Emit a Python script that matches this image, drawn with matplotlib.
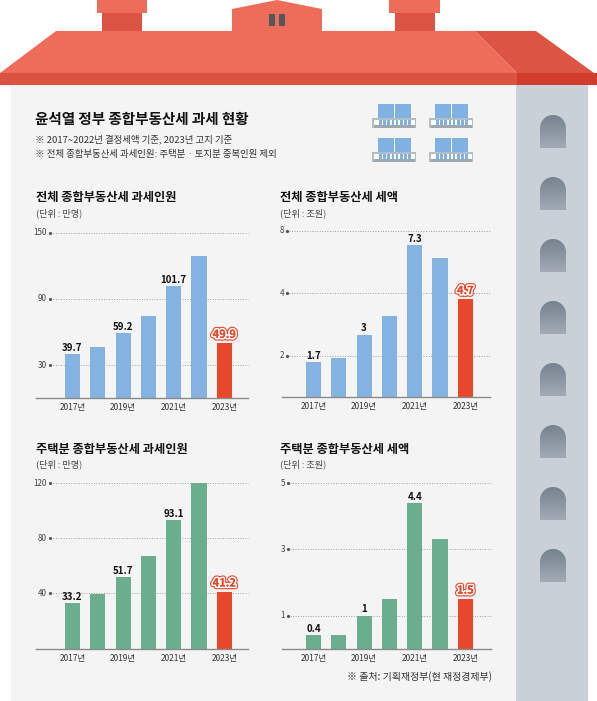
import matplotlib
matplotlib.use("Agg")
import matplotlib.pyplot as plt
import matplotlib.patches as mpatches
import matplotlib.patheffects as pe
import numpy as np

plt.rcParams['font.family'] = ['Noto Sans CJK KR', 'DejaVu Sans']

# ---------------- data ----------------
years = ['2017년', '2018년', '2019년', '2020년', '2021년', '2022년', '2023년']
total_people = [39.7, 46.5, 59.2, 75.0, 101.7, 128.5, 49.9]      # 만명
total_tax = [1.7, 1.9, 3.0, 3.9, 7.3, 6.7, 4.7]                  # 조원
house_people = [33.2, 39.5, 51.7, 66.9, 93.1, 119.8, 41.2]       # 만명
house_tax = [0.4, 0.4, 1.0, 1.5, 4.4, 3.3, 1.5]                  # 조원
labelled = [0, 2, 4, 6]
shown_years = [0, 2, 4, 6]

people_ticks = [30, 90, 150]
people_tick_labels = ['30', '90', '150']
tax_ticks = [2, 5, 8]
tax_tick_labels = ['2', '4', '8']
house_people_ticks = [40, 80, 120]
house_people_tick_labels = ['40', '80', '120']
house_tax_ticks = [1, 3, 5]
house_tax_tick_labels = ['1', '3', '5']

title = '윤석열 정부 종합부동산세 과세 현황'
notes = ['※ 2017~2022년 결정세액 기준, 2023년 고지 기준',
         '※ 전체 종합부동산세 과세인원: 주택분 · 토지분 중복인원 제외']
chart_titles = ['전체 종합부동산세 과세인원', '전체 종합부동산세 세액',
                '주택분 종합부동산세 과세인원', '주택분 종합부동산세 세액']
units = ['(단위 : 만명)', '(단위 : 조원)', '(단위 : 만명)', '(단위 : 조원)']
source = '※ 출처: 기획재정부(현 재정경제부)'

# ---------------- figure ----------------
W, H = 597, 701
fig = plt.figure(figsize=(W / 100, H / 100), dpi=100)
fig.patch.set_facecolor('white')
bg = fig.add_axes([0, 0, 1, 1], zorder=0)
bg.set_xlim(0, W)
bg.set_ylim(H, 0)
bg.axis('off')

RED_MAIN = '#ee6c5a'
RED_BAND = '#da5241'
RED_DARK = '#dc5443'
RED_DARKER = '#d23c2c'
WALL = '#f4f4f4'
SIDE = '#c9d0d8'

def poly(pts, color, z=1):
    bg.add_patch(mpatches.Polygon(pts, closed=True, facecolor=color, edgecolor='none', zorder=z))

# walls
bg.add_patch(mpatches.Rectangle((11, 85), 505, H - 85, facecolor=WALL, edgecolor='none', zorder=1))
bg.add_patch(mpatches.Rectangle((516, 85), 72, H - 85, facecolor=SIDE, edgecolor='none', zorder=1))

# chimneys
for x0, x1, c0, c1 in [(102, 142, 97, 147), (395, 435, 389, 440)]:
    bg.add_patch(mpatches.Rectangle((x0, 12), x1 - x0, 22, facecolor=RED_DARK, edgecolor='none', zorder=2))
    bg.add_patch(mpatches.Rectangle((c0, 0), c1 - c0, 13, facecolor=RED_MAIN, edgecolor='none', zorder=2))

# dormer
poly([(232, 33), (232, 9), (277, 0), (322, 9), (322, 33)], RED_MAIN, 2)
bg.add_patch(mpatches.Rectangle((269, 14), 6, 12, facecolor='#55585b', edgecolor='none', zorder=3))
bg.add_patch(mpatches.Rectangle((279, 14), 6, 12, facecolor='#55585b', edgecolor='none', zorder=3))

# roof
poly([(0, 73), (56, 31), (475, 31), (517, 73)], RED_MAIN, 3)
poly([(475, 31), (536, 31), (594, 73), (517, 73)], RED_DARK, 3)
bg.add_patch(mpatches.Rectangle((0, 73), 517, 12, facecolor=RED_BAND, edgecolor='none', zorder=3))
bg.add_patch(mpatches.Rectangle((517, 73), 80, 12, facecolor=RED_DARKER, edgecolor='none', zorder=3))

# arched side windows with vertical gradient
grad = np.linspace(0, 1, 64).reshape(-1, 1)
cmap = matplotlib.colors.LinearSegmentedColormap.from_list('g', ['#76828f', '#a2abb5'])
for k in range(8):
    top = 115 + 62 * k
    cx, r, bot = 553, 13, top + 33
    theta = np.linspace(np.pi, 0, 40)
    verts = [(cx - r, bot)] + [(cx + r * np.cos(t), top + r - r * np.sin(t)) for t in theta] + [(cx + r, bot), (cx - r, bot)]
    arch = mpatches.Polygon(verts, closed=True, facecolor='none', edgecolor='none')
    bg.add_patch(arch)
    im = bg.imshow(grad, extent=(cx - r, cx + r, bot, top), cmap=cmap, aspect='auto', zorder=2)
    im.set_clip_path(arch)
bg.set_xlim(0, W)
bg.set_ylim(H, 0)

# balconies
def balcony(x0, y0):
    blue = '#7fb1e3'
    bg.add_patch(mpatches.Rectangle((x0 + 6, y0), 15.5, 15, facecolor=blue, edgecolor='none', zorder=2))
    bg.add_patch(mpatches.Rectangle((x0 + 22.5, y0), 16.5, 15, facecolor=blue, edgecolor='none', zorder=2))
    ry = y0 + 14
    bg.add_patch(mpatches.Rectangle((x0, ry), 44, 9.5, facecolor='white', edgecolor='none', zorder=3))
    bg.add_patch(mpatches.Rectangle((x0, ry), 44, 1.8, facecolor='#b4bcc4', edgecolor='none', zorder=4))
    bg.add_patch(mpatches.Rectangle((x0, ry + 7), 44, 2.5, facecolor='#9ea7b0', edgecolor='none', zorder=4))
    bg.add_patch(mpatches.Rectangle((x0, ry), 1.5, 9.5, facecolor='#b4bcc4', edgecolor='none', zorder=4))
    bg.add_patch(mpatches.Rectangle((x0 + 42.5, ry), 1.5, 9.5, facecolor='#b4bcc4', edgecolor='none', zorder=4))
    for i in range(8):
        bx = x0 + 7 + i * 4.2
        bg.add_patch(mpatches.Rectangle((bx, ry + 2), 2.6, 5, facecolor=blue, edgecolor='none', zorder=4))

for (bx, by) in [(372, 104), (429, 104), (372, 138), (429, 138)]:
    balcony(bx, by)

# texts
bg.text(35, 119, title, fontsize=10.5, fontweight='black', va='center', ha='left', color='#111111', zorder=5)
bg.text(35, 139, notes[0], fontsize=6.8, va='center', ha='left', color='#333333', zorder=5)
bg.text(35, 154, notes[1], fontsize=6.8, va='center', ha='left', color='#333333', zorder=5)

title_pos = [(36, 197), (280, 197), (36, 449), (280, 449)]
unit_pos = [(36, 213), (280, 213), (36, 464), (280, 464)]
for t, u, tp, up in zip(chart_titles, units, title_pos, unit_pos):
    bg.text(tp[0], tp[1], t, fontsize=8.8, fontweight='bold', va='center', ha='left', color='#111111', zorder=5)
    bg.text(up[0], up[1], u, fontsize=6.6, va='center', ha='left', color='#444444', zorder=5)

bg.text(492, 677, source, fontsize=7.2, va='center', ha='right', color='#333333', zorder=5)

# ---------------- charts ----------------
BLUE = '#85b3e1'
GREEN = '#6aae8e'
RED = '#e8472b'
SPACING = 25.3  # px between bar centres

def make_chart(left, right, top, bottom, c0, values, ymax, ticks, tick_labels, color,
               lab_x, dot_x, grid_x):
    ax = fig.add_axes([left / W, 1 - bottom / H, (right - left) / W, (bottom - top) / H], zorder=2)
    ax.set_facecolor('none')
    ax.set_xlim((left - c0) / SPACING, (right - c0) / SPACING)
    ax.set_ylim(0, ymax)
    for s in ['top', 'right', 'left']:
        ax.spines[s].set_visible(False)
    ax.spines['bottom'].set_color('#8a8a8a')
    ax.spines['bottom'].set_linewidth(1.0)
    ax.set_yticks([])
    x = np.arange(len(values))
    colors = [color] * (len(values) - 1) + [RED]
    ax.bar(x, values, width=0.6, color=colors, zorder=2)
    ax.set_xticks([x[i] for i in shown_years])
    ax.set_xticklabels([years[i] for i in shown_years], fontsize=6.0, color='#333333')
    ax.tick_params(axis='x', length=0, pad=3.5)
    tr = ax.get_yaxis_transform()
    fx = lambda px: (px - left) / (right - left)
    for tv, tl in zip(ticks, tick_labels):
        ax.text(fx(lab_x), tv, tl, transform=tr, fontsize=5.8, ha='right', va='center', color='#444444')
        ax.plot([fx(dot_x)], [tv], marker='o', markersize=1.3, color='#555555', transform=tr, clip_on=False)
        ax.plot([fx(grid_x), 1], [tv, tv], transform=tr, color='#a0a0a0', lw=0.7,
                linestyle=(0, (1, 1.6)), zorder=1, clip_on=False)
    for i in labelled:
        v = values[i]
        txt = f'{v:g}'
        if i == len(values) - 1:
            ax.text(x[i], v + ymax * 0.014, txt, ha='center', va='bottom', fontsize=8, fontweight='bold',
                    color=RED, zorder=4,
                    path_effects=[pe.withStroke(linewidth=4.0, foreground=RED),
                                  pe.withStroke(linewidth=2.4, foreground='white'), pe.Normal()])
        else:
            ax.text(x[i], v + ymax * 0.008, txt, ha='center', va='bottom', fontsize=7.0, fontweight='bold',
                    color='#111111', zorder=4)
    return ax

make_chart(36, 248, 232.7, 398.3, 72.5, total_people, 150, people_ticks, people_tick_labels, BLUE,
           47, 50, 53)
make_chart(282, 490, 230.7, 397.3, 313.5, total_tax, 8, tax_ticks, tax_tick_labels, BLUE,
           284, 287, 289)
make_chart(36, 248, 483, 648.7, 72.5, house_people, 120, house_people_ticks, house_people_tick_labels, GREEN,
           47, 50, 53)
make_chart(282, 491, 483, 648.7, 313.5, house_tax, 5, house_tax_ticks, house_tax_tick_labels, GREEN,
           285, 288, 290)

fig.savefig('out.png', dpi=100, facecolor='white')
